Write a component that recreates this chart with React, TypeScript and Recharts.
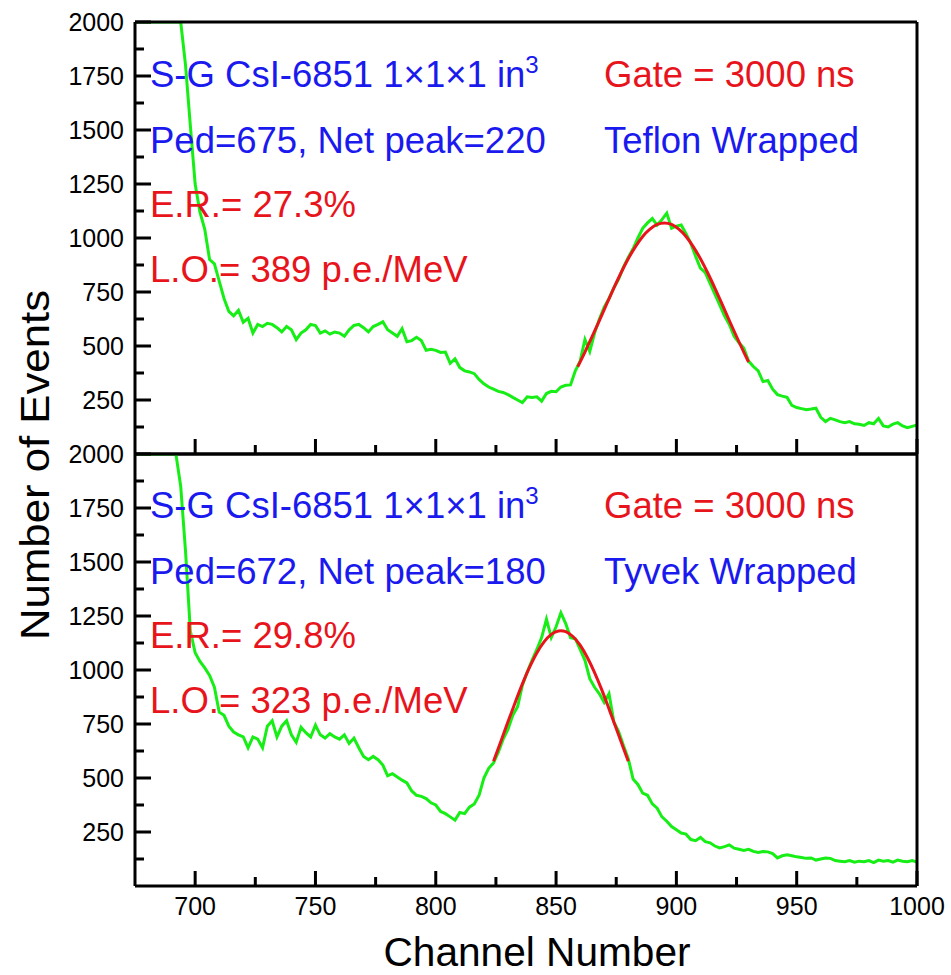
import React from "react";
import { LineChart, Line, XAxis, YAxis } from "recharts";

const FONT = "'Liberation Sans', Arial, Helvetica, sans-serif";
const GREEN = "#16ee16";
const RED = "#e8141c";
const BLUE = "#1a1aee";

// channel grid (x), shared by both spectra
const channels = [
  675,
  676, 678, 680, 682, 684, 686, 688, 690, 692, 694,
  696, 698, 700, 702, 704, 706, 708, 710, 712, 714,
  716, 718, 720, 722, 724, 726, 728, 730, 732, 734,
  736, 738, 740, 742, 744, 746, 748, 750, 752, 754,
  756, 758, 760, 762, 764, 766, 768, 770, 772, 774,
  776, 778, 780, 782, 784, 786, 788, 790, 792, 794,
  796, 798, 800, 802, 804, 806, 808, 810, 812, 814,
  816, 818, 820, 822, 824, 826, 828, 830, 832, 834,
  836, 838, 840, 842, 844, 846, 848, 850, 852, 854,
  856, 858, 860, 862, 864, 866, 868, 870, 872, 874,
  876, 878, 880, 882, 884, 886, 888, 890, 892, 894,
  896, 898, 900, 902, 904, 906, 908, 910, 912, 914,
  916, 918, 920, 922, 924, 926, 928, 930, 932, 934,
  936, 938, 940, 942, 944, 946, 948, 950, 952, 954,
  956, 958, 960, 962, 964, 966, 968, 970, 972, 974,
  976, 978, 980, 982, 984, 986, 988, 990, 992, 994,
  996, 998, 1000,
];

// Teflon wrapped spectrum (top panel)
const teflonCounts = [
  2000,
  2000, 2000, 2000, 2000, 2000, 2000, 2000, 2000, 2000, 2000,
  1800, 1520, 1250, 1120, 1040, 900, 880, 800, 720, 660,
  640, 665, 610, 628, 560, 600, 590, 605, 600, 585,
  565, 590, 575, 530, 560, 575, 600, 595, 560, 570,
  555, 565, 560, 545, 575, 595, 600, 585, 565, 590,
  600, 612, 575, 560, 545, 580, 520, 525, 540, 525,
  480, 485, 480, 470, 472, 420, 440, 400, 385, 380,
  372, 345, 325, 310, 300, 290, 285, 275, 262, 250,
  238, 265, 262, 265, 245, 280, 290, 288, 310, 318,
  320, 385, 430, 530, 475, 560, 625, 680, 720, 770,
  810, 865, 910, 950, 1000, 1045, 1070, 1090, 1060, 1085,
  1115, 1045, 1055, 1060, 1020, 975, 915, 860, 840, 790,
  740, 690, 640, 600, 545, 515, 490, 430, 405, 385,
  335, 340, 300, 275, 268, 262, 225, 215, 210, 205,
  208, 212, 170, 150, 165, 158, 150, 145, 150, 140,
  138, 132, 145, 140, 165, 130, 125, 138, 145, 130,
  122, 128, 134,
];

// Tyvek wrapped spectrum (bottom panel)
const tyvekCounts = [
  2000,
  2000, 2000, 2000, 2000, 2000, 2000, 2000, 2000, 2000, 1850,
  1550, 1180, 1080, 1040, 1010, 975, 920, 805, 790, 740,
  713, 700, 690, 640, 690, 680, 640, 740, 765, 690,
  740, 765, 700, 665, 735, 710, 690, 745, 700, 685,
  705, 690, 680, 700, 660, 685, 640, 600, 585, 600,
  585, 560, 510, 520, 505, 490, 477, 440, 420, 415,
  405, 385, 375, 345, 335, 320, 305, 340, 335, 365,
  380, 420, 500, 545, 570, 620, 680, 725, 790, 830,
  930, 990, 1045, 1095, 1150, 1235, 1150, 1200, 1265, 1215,
  1150, 1145, 1095, 1045, 960, 920, 890, 850, 890, 760,
  715, 650, 590, 495, 470, 430, 420, 380, 360, 320,
  300, 275, 260, 245, 240, 215, 210, 225, 205, 200,
  185, 176, 182, 190, 175, 170, 165, 170, 160, 155,
  160, 158, 150, 130, 140, 145, 140, 135, 132, 128,
  130, 120, 125, 130, 128, 118, 115, 112, 118, 110,
  115, 112, 118, 108, 120, 115, 118, 110, 120, 115,
  112, 118, 111,
];

// gaussian fits
const teflonFitCh = [859, 862, 865, 868, 871, 874, 877, 880, 883, 886, 889, 892, 895, 898, 901, 904, 907, 910, 913, 916, 919, 922, 925, 928, 930];
const teflonFit = [404, 472, 544, 618, 694, 768, 839, 904, 960, 1007, 1041, 1063, 1070, 1063, 1041, 1007, 960, 904, 839, 768, 694, 618, 544, 472, 426];
const tyvekFitCh = [824, 827, 830, 833, 836, 839, 842, 845, 848, 851, 852, 854, 857, 860, 863, 866, 869, 872, 875, 878, 880];
const tyvekFit = [578, 668, 760, 850, 936, 1013, 1079, 1130, 1165, 1181, 1182, 1178, 1155, 1115, 1058, 988, 908, 820, 729, 638, 578];

const xTicks = [700, 725, 750, 775, 800, 825, 850, 875, 900, 925, 950, 975, 1000];
const yTicks = [125, 250, 375, 500, 625, 750, 875, 1000, 1125, 1250, 1375, 1500, 1625, 1750, 1875, 2000];

// plot box shared by the charts and the tick overlay
const PLOT_L = 135;
const PLOT_R = 917;
const TOP_T = 22;
const MID = 454;
const BOT_B = 886;
const X_MIN = 675;
const X_MAX = 1000;
const Y_MAX = 2000;

const toSeries = (xs: number[], ys: number[]) => xs.map((ch, i) => ({ ch, v: ys[i] }));

const makeXLabel = (show: boolean) => (props: any) =>
  show && props.payload.value % 50 === 0 ? (
    <text x={props.x} y={Number(props.y) + 29} textAnchor="middle" fontSize={25} fontFamily={FONT} fill="#000">
      {props.payload.value}
    </text>
  ) : (
    <g />
  );

const YLabel = (props: any) =>
  props.payload.value % 250 === 0 ? (
    <text x={Number(props.x) - 11} y={props.y} dy="0.36em" textAnchor="end" fontSize={25} fontFamily={FONT} fill="#000">
      {props.payload.value}
    </text>
  ) : (
    <g />
  );

const frameLine = { stroke: "#000", strokeWidth: 3 };

interface PanelProps {
  height: number;
  mTop: number;
  mBottom: number;
  spectrum: { ch: number; v: number }[];
  fit: { ch: number; v: number }[];
  showXLabels: boolean;
}

function Panel({ height, mTop, mBottom, spectrum, fit, showXLabels }: PanelProps) {
  return (
    <div style={{ position: "absolute", left: 0, top: 0 }}>
      <LineChart width={951} height={height} margin={{ top: mTop, right: 951 - PLOT_R - 2, bottom: mBottom, left: PLOT_L - 60 }}>
        <XAxis
          type="number"
          dataKey="ch"
          domain={[X_MIN, X_MAX]}
          ticks={xTicks}
          height={40}
          tickSize={0}
          tickMargin={0}
          axisLine={frameLine}
          tickLine={false}
          tick={makeXLabel(showXLabels)}
          interval={0}
          allowDataOverflow
        />
        <XAxis xAxisId="top" orientation="top" type="number" domain={[X_MIN, X_MAX]} height={2} tick={false} tickLine={false} axisLine={frameLine} />
        <YAxis
          type="number"
          domain={[0, Y_MAX]}
          ticks={yTicks}
          width={60}
          tickSize={0}
          tickMargin={0}
          axisLine={frameLine}
          tickLine={false}
          tick={YLabel}
          interval={0}
          allowDataOverflow
        />
        <YAxis yAxisId="right" orientation="right" type="number" domain={[0, Y_MAX]} width={2} tick={false} tickLine={false} axisLine={frameLine} />
        <Line data={spectrum} dataKey="v" type="linear" stroke={GREEN} strokeWidth={3} dot={false} isAnimationActive={false} />
        <Line data={fit} dataKey="v" type="monotone" stroke={RED} strokeWidth={3} dot={false} isAnimationActive={false} />
      </LineChart>
    </div>
  );
}

// inward tick marks for one panel (bottom edge and left edge)
function InwardTicks({ top, bottom }: { top: number; bottom: number }) {
  const sx = (v: number) => PLOT_L + ((v - X_MIN) / (X_MAX - X_MIN)) * (PLOT_R - PLOT_L);
  const sy = (v: number) => bottom - (v / Y_MAX) * (bottom - top);
  return (
    <g>
      {xTicks.map((v) => (
        <rect key={`x${v}`} x={sx(v) - 1.5} y={bottom - (v % 50 === 0 ? 15 : 9)} width={3} height={v % 50 === 0 ? 15 : 9} fill="#000" />
      ))}
      {yTicks.map((v) => (
        <rect key={`y${v}`} x={PLOT_L} y={sy(v) - 1.5} width={v % 250 === 0 ? 16 : 9} height={3} fill="#000" />
      ))}
    </g>
  );
}

const txt = { fontSize: 36.5, fontFamily: FONT } as const;

function Notes({ dy, ped, wrap, er, lo }: { dy: number; ped: string; wrap: string; er: string; lo: string }) {
  return (
    <g transform={`translate(0,${dy})`}>
      <text x={150} y={87} fill={BLUE} {...txt}>
        S-G CsI-6851 1×1×1 in<tspan dy={-14} fontSize={24}>3</tspan>
      </text>
      <text x={604} y={87} fill={RED} {...txt}>Gate = 3000 ns</text>
      <text x={150} y={153} fill={BLUE} {...txt}>{ped}</text>
      <text x={604} y={153} fill={BLUE} {...txt}>{wrap}</text>
      <text x={150} y={217} fill={RED} {...txt}>{er}</text>
      <text x={150} y={282} fill={RED} {...txt}>{lo}</text>
    </g>
  );
}

export default function App() {
  const teflon = toSeries(channels, teflonCounts);
  const tyvek = toSeries(channels, tyvekCounts);
  return (
    <div style={{ position: "absolute", left: 0, top: 0, width: 951, height: 975, background: "#fff", overflow: "hidden" }}>
      <Panel height={MID + 46} mTop={TOP_T - 2} mBottom={6} spectrum={teflon} fit={toSeries(teflonFitCh, teflonFit)} showXLabels={false} />
      <Panel height={975} mTop={MID - 2} mBottom={975 - BOT_B - 40} spectrum={tyvek} fit={toSeries(tyvekFitCh, tyvekFit)} showXLabels={true} />
      <svg width={951} height={975} style={{ position: "absolute", left: 0, top: 0, pointerEvents: "none" }}>
        <InwardTicks top={TOP_T} bottom={MID} />
        <InwardTicks top={MID} bottom={BOT_B} />
        <Notes dy={0} ped="Ped=675, Net peak=220" wrap="Teflon Wrapped" er="E.R.= 27.3%" lo="L.O.= 389 p.e./MeV" />
        <Notes dy={431} ped="Ped=672, Net peak=180" wrap="Tyvek Wrapped" er="E.R.= 29.8%" lo="L.O.= 323 p.e./MeV" />
        <text x={537} y={966} textAnchor="middle" fontSize={40} fontFamily={FONT} fill="#000" textLength={307} lengthAdjust="spacingAndGlyphs">
          Channel Number
        </text>
        <text transform="translate(49,465) rotate(-90)" textAnchor="middle" fontSize={41} fontFamily={FONT} fill="#000" textLength={350} lengthAdjust="spacingAndGlyphs">
          Number of Events
        </text>
      </svg>
    </div>
  );
}
